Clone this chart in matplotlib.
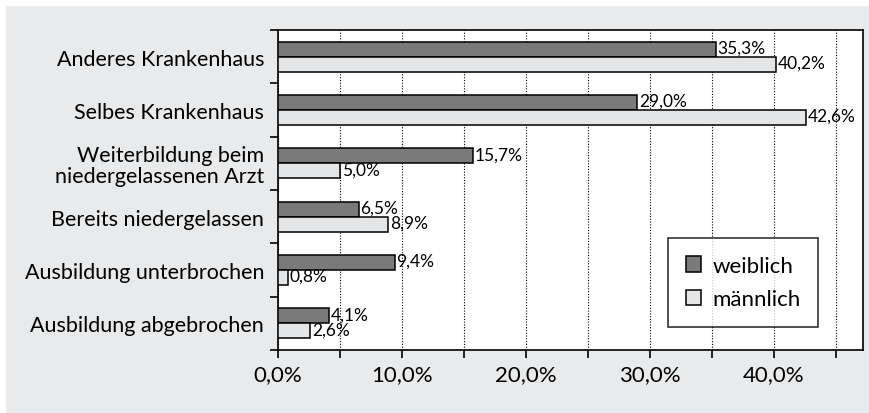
import numpy as np
import matplotlib.pyplot as plt
from matplotlib.patches import Rectangle
from matplotlib.ticker import MultipleLocator, FuncFormatter

# --- data ---
categories = ["Anderes Krankenhaus", "Selbes Krankenhaus",
              "Weiterbildung beim\nniedergelassenen Arzt", "Bereits niedergelassen",
              "Ausbildung unterbrochen", "Ausbildung abgebrochen"]
weiblich = [35.3, 29.0, 15.7, 6.5, 9.4, 4.1]
maennlich = [40.2, 42.6, 5.0, 8.9, 0.8, 2.6]
series_names = ["weiblich", "männlich"]

plt.rcParams['font.family'] = ['Lato', 'DejaVu Sans']

fig = plt.figure(figsize=(8.7, 4.14), dpi=100)
fig.patch.set_facecolor("white")
# grey card behind the chart
fig.add_artist(Rectangle((6 / 870, 0), 1, 1 - 7 / 414, transform=fig.transFigure,
                         facecolor="#e9eaec", edgecolor="none", zorder=-10))

ax = fig.add_axes([278 / 870, 1 - 351 / 414, (863 - 278) / 870, (351 - 31) / 414])
ax.set_zorder(2)
ax.set_facecolor("white")

y = np.arange(len(categories))
h = 0.28
dark, light = "#7a7a7a", "#e4e5e7"
b1 = ax.barh(y - h / 2, weiblich, height=h, color=dark, edgecolor="black",
             linewidth=1.1, zorder=3, label=series_names[0])
b2 = ax.barh(y + h / 2, maennlich, height=h, color=light, edgecolor="black",
             linewidth=1.1, zorder=3, label=series_names[1])

fmt = lambda v: f"{v:.1f}%".replace(".", ",")
for bars, vals in ((b1, weiblich), (b2, maennlich)):
    for bar, v in zip(bars, vals):
        ax.text(v + 0.15, bar.get_y() + bar.get_height() / 2 - 0.03, fmt(v),
                va="center", ha="left", fontsize=12.5, zorder=4)

ax.set_xlim(0, 47.2)
ax.set_ylim(len(categories) - 0.5, -0.5)

ax.xaxis.set_major_locator(MultipleLocator(10))
ax.xaxis.set_minor_locator(MultipleLocator(5))
ax.xaxis.set_major_formatter(FuncFormatter(lambda v, p: f"{v:.1f}%".replace(".", ",")))
ax.tick_params(axis="x", which="both", direction="out", length=6, width=1.2,
               labelsize=16, pad=4)
ax.grid(axis="x", which="both", linestyle=(0, (1, 1.5)), color="black",
        linewidth=0.8, zorder=1)

# y ticks sit on the category boundaries, labels in the middle
ax.set_yticks(np.arange(len(categories) + 1) - 0.5)
ax.set_yticklabels([])
ax.set_yticks(y, minor=True)
ax.set_yticklabels(categories, minor=True, fontsize=15.5, linespacing=1.05)
ax.tick_params(axis="y", which="major", direction="out", length=6, width=1.2)
ax.tick_params(axis="y", which="minor", length=0, pad=10)

for s in ax.spines.values():
    s.set_linewidth(1.2)

leg = ax.legend(loc="upper left", bbox_to_anchor=((668 - 278) / 585, 1 - (239 - 31) / 320),
                fontsize=16, frameon=True, fancybox=False, edgecolor="black",
                handlelength=0.7, handleheight=0.7, handletextpad=0.5,
                borderpad=0.8, labelspacing=0.6, borderaxespad=0)
leg.get_frame().set_linewidth(1.2)

fig.savefig("out.png", dpi=100)
